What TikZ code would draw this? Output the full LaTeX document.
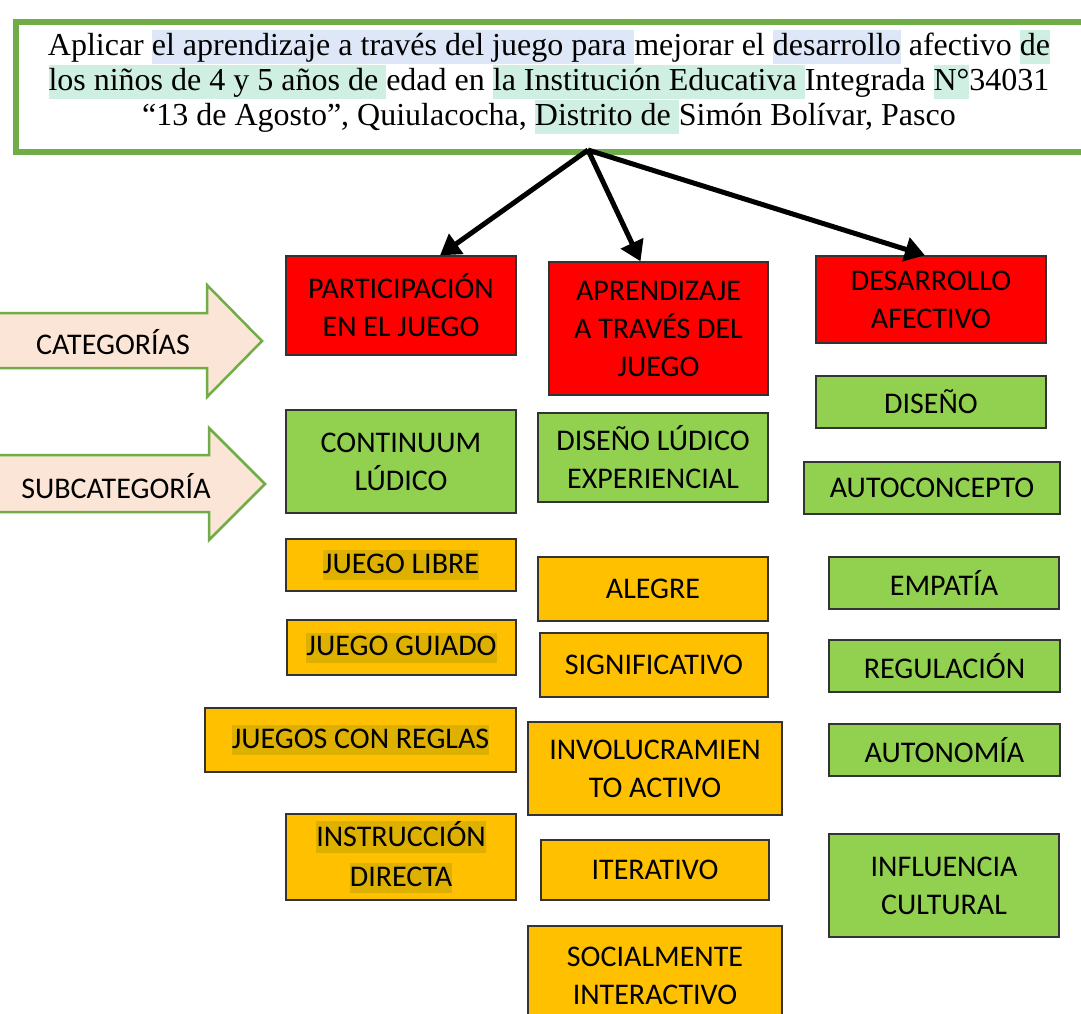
\documentclass[tikz,border=0pt]{standalone}
\usepackage{fontspec}
\setmainfont{Liberation Serif}
\newfontfamily\boxfont{Carlito}
\usetikzlibrary{arrows.meta}
\definecolor{tgreen}{RGB}{112,173,71}
\definecolor{hlblue}{RGB}{221,231,248}
\definecolor{hlgreen}{RGB}{207,239,226}
\definecolor{catfill}{RGB}{251,229,214}
\definecolor{bred}{RGB}{255,0,0}
\definecolor{bgreen}{RGB}{146,208,80}
\definecolor{borange}{RGB}{255,192,0}
\definecolor{hldark}{RGB}{222,176,0}
\newcommand{\hlB}[1]{{\setlength{\fboxsep}{0pt}\colorbox{hlblue}{\vrule height 25pt depth 9pt width 0pt #1}}}
\newcommand{\hlG}[1]{{\setlength{\fboxsep}{0pt}\colorbox{hlgreen}{\vrule height 25pt depth 9pt width 0pt #1}}}
\newcommand{\hlD}[1]{{\setlength{\fboxsep}{0pt}\colorbox{hldark}{\vrule height 23pt depth 7pt width 0pt #1}}}
\tikzset{
  bx/.style={draw=black!80, line width=1.3, align=center, inner sep=0pt, text=black,
    font=\boxfont\fontsize{30}{38}\selectfont},
  redbox/.style={bx, fill=bred},
  grnbox/.style={bx, fill=bgreen},
  orgbox/.style={bx, fill=borange},
  bigarrow/.style={draw=tgreen, line width=2.5, fill=catfill, line join=miter},
  link/.style={draw=black, line width=5, -{Triangle[length=20pt,width=24pt]}}
}
\begin{document}
\begin{tikzpicture}[x=1pt,y=-1pt]
\useasboundingbox (0,0) rectangle (1081,1013);
\fill[white] (0,0) rectangle (1081,1013);

% title
\node[draw=tgreen, line width=6, anchor=north west, minimum width=1090, minimum height=130, inner sep=0pt] (tbox) at (13,19) {};
\node[align=center, font=\fontsize{32}{35}\selectfont, inner sep=0pt] (title) at (549,82)
{Aplicar \hlB{el aprendizaje a través del juego para }mejorar el \hlB{desarrollo} afectivo \hlG{de}\\
\hlG{los niños de 4 y 5 años de }edad en \hlG{la Institución Educativa }Integrada \hlG{N°}34031\\
“13 de Agosto”, Quiulacocha, \hlG{Distrito de }Simón Bolívar, Pasco};

% side arrows
\draw[bigarrow] (-5,313) -- (207,313) -- (207,285) -- (262,341) -- (207,397) -- (207,368) -- (-5,368) -- cycle;
\node[font=\boxfont\fontsize{30}{38}\selectfont] (cat) at (113,342) {CATEGORÍAS};
\draw[bigarrow] (-5,455) -- (209,455) -- (209,428) -- (265,484) -- (209,540) -- (209,512) -- (-5,512) -- cycle;
\node[font=\boxfont\fontsize{30}{38}\selectfont] (sub) at (116,486) {SUBCATEGORÍA};

% column 1
\node[redbox, minimum width=230, minimum height=99] (p1) at (401,305.5) {PARTICIPACIÓN\\EN EL JUEGO};
\node[grnbox, minimum width=230, minimum height=103] (p2) at (401,461.5) {CONTINUUM\\LÚDICO};
\node[orgbox, minimum width=230, minimum height=52] (p3) at (401,565) {\hlD{JUEGO LIBRE}};
\node[orgbox, minimum width=229, minimum height=55] (p4) at (401.5,647.5) {\hlD{JUEGO GUIADO}};
\node[orgbox, minimum width=311, minimum height=64] (p5) at (360.5,740) {\hlD{JUEGOS CON REGLAS}};
\node[orgbox, minimum width=230, minimum height=86] (p6) at (401,857) {\hlD{INSTRUCCIÓN}\\[2pt]\hlD{DIRECTA}};

% column 2
\node[redbox, minimum width=219, minimum height=133] (a1) at (658.5,328.5) {APRENDIZAJE\\A TRAVÉS DEL\\JUEGO};
\node[grnbox, minimum width=230, minimum height=89] (a2) at (653,457.5) {DISEÑO LÚDICO\\EXPERIENCIAL};
\node[orgbox, minimum width=230, minimum height=64] (a3) at (653,589) {ALEGRE};
\node[orgbox, minimum width=228, minimum height=64] (a4) at (654,665) {SIGNIFICATIVO};
\node[orgbox, minimum width=254, minimum height=93] (a5) at (655,768.5) {INVOLUCRAMIEN\\TO ACTIVO};
\node[orgbox, minimum width=228, minimum height=60] (a6) at (655,870) {ITERATIVO};
\node[orgbox, minimum width=254, minimum height=100] (a7) at (655,976) {SOCIALMENTE\\INTERACTIVO};

% column 3
\node[redbox, minimum width=230, minimum height=87] (d1) at (931,299.5) {DESARROLLO\\AFECTIVO};
\node[grnbox, minimum width=230, minimum height=52] (d2) at (931,402) {DISEÑO};
\node[grnbox, minimum width=256, minimum height=52] (d3) at (932,488) {AUTOCONCEPTO};
\node[grnbox, minimum width=230, minimum height=52] (d4) at (944,583) {EMPATÍA};
\node[grnbox, minimum width=231, minimum height=52] (d5) at (944.5,666) {REGULACIÓN};
\node[grnbox, minimum width=231, minimum height=52] (d6) at (944.5,750) {AUTONOMÍA};
\node[grnbox, minimum width=230, minimum height=103] (d7) at (944,885.5) {INFLUENCIA\\CULTURAL};

% connectors
\coordinate (src) at (588,150);
\draw[link] (src) -- ([xshift=39pt]p1.north);
\draw[link] (src) -- ([xshift=-18pt]a1.north);
\draw[link] (src) -- ([xshift=-6pt]d1.north);
\end{tikzpicture}
\end{document}
